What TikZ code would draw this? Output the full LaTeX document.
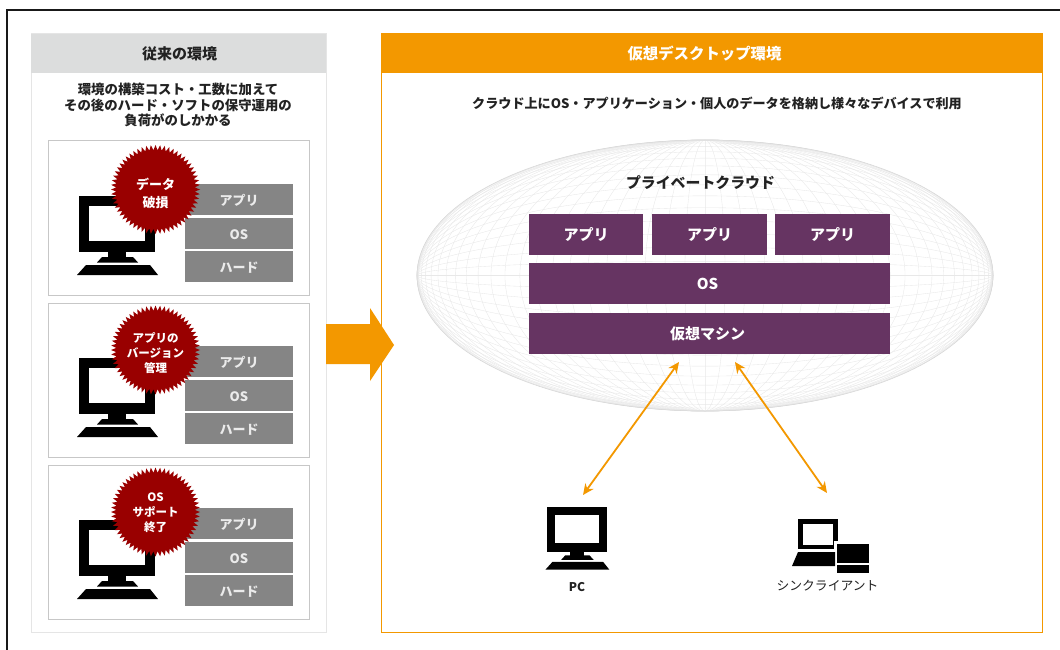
\documentclass[tikz,border=0pt]{standalone}
\usepackage{fontspec}
\setmainfont{Noto Sans CJK JP}
\usetikzlibrary{shapes.geometric,arrows.meta}
\definecolor{org}{HTML}{F39800}
\definecolor{pur}{HTML}{663462}
\definecolor{grybox}{HTML}{858585}
\definecolor{hdr}{HTML}{DCDDDD}
\definecolor{burstc}{HTML}{990000}
\definecolor{ink}{HTML}{222222}
\newcommand{\dn}[1]{\raisebox{0pt}[12pt][0pt]{#1}}
\tikzset{
  x=1pt,y=-1pt,
  boxn/.style={inner sep=0pt,outer sep=0pt,anchor=north west,align=center},
  graybox/.style={boxn,fill=grybox,text=white!92!black,font=\fontsize{13}{15}\selectfont\bfseries,minimum width=108pt,minimum height=31pt},
  purbox/.style={boxn,fill=pur,text=white,font=\fontsize{15}{17}\selectfont\bfseries,minimum height=41pt},
  card/.style={boxn,draw=black!22,line width=1pt,fill=white,minimum width=261pt,minimum height=154pt},
  burst/.style={star,star points=60,star point ratio=1.13,fill=burstc,inner sep=0pt,minimum size=89pt},
  burstlbl/.style 2 args={inner sep=0pt,text=white,align=center,font=\fontsize{#1}{#2}\selectfont\bfseries},
  gridl/.style={draw=black!9,line width=0.35pt},
  lbl/.style={inner sep=0pt,text=ink,align=center,font=\fontsize{13.4}{15.5}\selectfont\bfseries},
  dbl/.style={draw=org,line width=1.8pt,{Stealth[length=11pt,width=10pt]}-{Stealth[length=11pt,width=10pt]}},
  monitor/.pic={
    \fill[black] (-38,-39.5) rectangle (38,16.5);
    \fill[white] (-28,-29.5) rectangle (28,5.5);
    \fill[black] (-9,16) rectangle (9,22);
    \fill[black] (-20,27) -- (-15,21.5) -- (16,21.5) -- (21,27) -- cycle;
    \fill[black] (-40,39.5) -- (-31,29.5) -- (33,29.5) -- (41,39.5) -- cycle;
  }
}
\begin{document}
\begin{tikzpicture}
\useasboundingbox (0,0) rectangle (1060,650);
\fill[white] (0,0) rectangle (1060,650);
% outer frame
\draw[black!90,line width=2pt] (7,650) -- (7,10.5) -- (1060,10.5);
% left panel
\node[boxn,draw=black!10,line width=1pt,minimum width=295pt,minimum height=598pt] (leftpanel) at (31,34) {};
\node[boxn,fill=hdr,minimum width=295pt,minimum height=39pt,text=ink,font=\fontsize{15}{17}\selectfont\bfseries] (lefthead) at (31,34) {\hspace{2pt}\dn{従来の環境}};
\node[lbl] (leftsub) at (178,105) {環境の構築コスト・工数に加えて\\その後のハード・ソフトの保守運用の\\負荷がのしかかる};
% right panel
\node[boxn,draw=org,line width=1pt,minimum width=661pt,minimum height=598pt] (rightpanel) at (381,34) {};
\node[boxn,fill=org,minimum width=661pt,minimum height=39pt,text=white,font=\fontsize{15.4}{17}\selectfont\bfseries] (righthead) at (381,34) {\hspace{-14pt}\dn{仮想デスクトップ環境}};
\node[lbl,font=\fontsize{13.1}{15}\selectfont\bfseries] (rightsub) at (717,103) {クラウド上にOS・アプリケーション・個人のデータを格納し様々なデバイスで利用};
% cards
\foreach \i/\yy/\by/\ty/\fs/\ls/\bt in {1/141/189.5/193/13/18/{データ\\破損},2/303/350/353/11.5/15/{アプリの\\バージョン\\管理},3/465/512/512.5/11.5/15/{OS\\サポート\\終了}}{
  \node[card] (card\i) at (48,\yy) {};
  \pgfmathsetmacro{\my}{\yy+94.5}
  \pic at (117,\my) {monitor};
  \node[graybox] (app\i) at (185,\yy+43) {\dn{アプリ}};
  \node[graybox] (os\i) at (185,\yy+76.5) {\dn{OS}};
  \node[graybox] (hw\i) at (185,\yy+110) {\dn{ハード}};
  \node[burst] (burst\i) at (155.5,\by) {};
  \node[burstlbl={\fs}{\ls}] (burstt\i) at (155.5,\ty) {\bt};
}
% big arrow
\fill[org] (326,324) -- (370,324) -- (370,308) -- (394,345) -- (370,381) -- (370,364) -- (326,364) -- cycle;
% globe
\begin{scope}[shift={(705,275.5)}]
  \foreach \a in {0,4,...,86}{
    \pgfmathsetmacro{\rx}{288*sin(\a)}
    \draw[gridl] (0,0) ellipse [x radius=\rx,y radius=135.5];
  }
  \foreach \a in {0,6,...,84}{
    \pgfmathsetmacro{\ry}{135.5*sin(\a)}
    \draw[gridl] (0,0) ellipse [x radius=288,y radius=\ry];
  }
  \draw[draw=black!16,line width=0.5pt] (0,0) ellipse [x radius=288,y radius=135.5];
\end{scope}
\node[lbl,font=\fontsize{14.9}{16}\selectfont\bfseries] (cloud) at (700.5,183) {プライベートクラウド};
\node[purbox,minimum width=114pt] (pa1) at (529,214) {\dn{アプリ}};
\node[purbox,minimum width=115pt] (pa2) at (652,214) {\dn{アプリ}};
\node[purbox,minimum width=115pt] (pa3) at (775,214) {\dn{アプリ}};
\node[purbox,minimum width=361pt] (pos) at (529,263) {\hspace{-4pt}\dn{OS}};
\node[purbox,minimum width=361pt] (pvm) at (529,313) {\hspace{-4pt}\dn{仮想マシン}};
% devices
\pic[scale=0.79] at (577,538.5) {monitor};
\node[lbl,font=\fontsize{12}{14}\selectfont\bfseries] (pc) at (577,587) {PC};
\fill[black] (798,519) rectangle (838,549);
\fill[white] (803,524) rectangle (833,545);
\fill[white] (834,541) rectangle (840,552);
\fill[black] (798,552) -- (835,552) -- (835,566) -- (792,566) -- cycle;
\fill[black] (837,544) rectangle (869,563);
\fill[black] (837,565) rectangle (869,573);
\node[lbl,font=\fontsize{12.8}{14}\selectfont] (tc) at (827.5,586) {シンクライアント};
% connectors
\coordinate (a1) at (679,362);
\coordinate (a2) at (583,495);
\coordinate (b1) at (735,362);
\coordinate (b2) at (827,493);
\draw[dbl] (a1) -- (a2);
\draw[dbl] (b1) -- (b2);
\end{tikzpicture}
\end{document}
